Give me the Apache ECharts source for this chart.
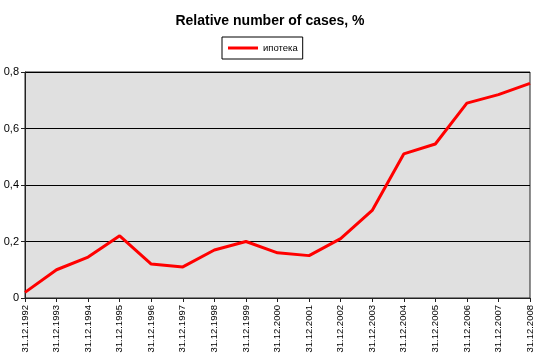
<!DOCTYPE html>
<html><head><meta charset="utf-8">
<script src="https://cdn.jsdelivr.net/npm/echarts@6/dist/echarts.min.js"></script>
<style>html,body{margin:0;padding:0;background:#fff}#c{width:540px;height:356px}</style>
</head><body><div id="c"></div>
<script>
var categories = ['31.12.1992','31.12.1993','31.12.1994','31.12.1995','31.12.1996','31.12.1997','31.12.1998','31.12.1999','31.12.2000','31.12.2001','31.12.2002','31.12.2003','31.12.2004','31.12.2005','31.12.2006','31.12.2007','31.12.2008'];
var mortgage = [0.02,0.10,0.145,0.22,0.12,0.11,0.17,0.20,0.16,0.15,0.21,0.31,0.51,0.545,0.69,0.72,0.76];
var seriesName = 'ипотека';
var titleText = 'Relative number of cases, %';

var chart = echarts.init(document.getElementById('c'), null, {renderer:'canvas'});
chart.setOption({
  animation:false,
  backgroundColor:'#fff',
  textStyle:{fontFamily:'Liberation Sans, Arial, sans-serif'},
  title:{text:titleText,left:'center',top:9,textStyle:{fontSize:14,fontWeight:'bold',color:'#000',fontFamily:'Liberation Sans, Arial, sans-serif'}},
  legend:{data:[seriesName],top:37,left:222,borderColor:'#000',borderWidth:1,padding:[6,5,6,6],
    itemWidth:30,itemHeight:3,icon:'rect',itemGap:5,
    textStyle:{fontSize:9.5,color:'#000'}},
  grid:{left:25,right:10,top:72,bottom:58,show:true,backgroundColor:'#e0e0e0',borderColor:'#222',borderWidth:1},
  xAxis:{type:'category',data:categories,boundaryGap:false,
    axisLine:{lineStyle:{color:'#222',width:1}},
    axisTick:{show:true,alignWithLabel:true,length:4,lineStyle:{color:'#222'}},
    axisLabel:{rotate:90,fontSize:9.5,color:'#000',margin:7,interval:0}},
  yAxis:{type:'value',min:0,max:0.8,interval:0.2,
    axisLine:{show:true,lineStyle:{color:'#222',width:1}},
    axisTick:{show:true,length:4,lineStyle:{color:'#222'}},
    splitLine:{lineStyle:{color:'#000',width:1}},
    axisLabel:{fontSize:11,color:'#000',margin:6,formatter:function(v){return String(Math.round(v*10)/10).replace('.',',');}}},
  series:[{name:seriesName,type:'line',data:mortgage,symbol:'none',lineStyle:{color:'#ff0000',width:3},itemStyle:{color:'#ff0000'}}]
});
</script></body></html>
